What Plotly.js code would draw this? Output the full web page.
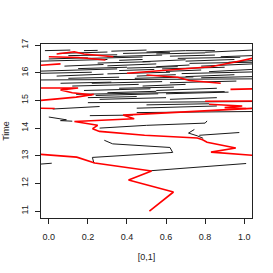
<!DOCTYPE html>
<html>
<head>
<meta charset="utf-8">
<script src="https://cdn.plot.ly/plotly-3.0.1.min.js"></script>
<style>html,body{margin:0;padding:0;background:#fff}#chart{width:273px;height:273px}</style>
</head>
<body>
<div id="chart"></div>
<script>
// Black lineages: x positions and times, one sub-array per line
const blackX = [
  [-0.02, 0.05, 0.11], [0.18, 0.25], [0.32, 0.41, 0.50], [0.50, 0.70, 0.85], [0.80, 0.92, 1.04],
  [0.38, 0.62], [0.10, 0.22, 0.35], [0.30, 0.45, 0.58], [0.62, 0.85], [0.88, 1.04],
  [-0.04, 0.15, 0.30], [0.36, 0.48], [0.48, 0.60, 0.70], [0.70, 0.95], [0.92, 1.04],
  [0.08, 0.28], [0.30, 0.42, 0.55], [0.55, 0.72], [0.78, 0.90, 1.04],
  [-0.04, 0.15, 0.35], [0.36, 0.54], [0.60, 0.78], [0.82, 1.04],
  [0.04, 0.28], [0.45, 0.65], [0.70, 0.95],
  [-0.04, 0.50, 1.04],
  [0.12, 0.46], [0.48, 0.70],
  [0.18, 0.52], [0.55, 0.86],
  [0.14, 0.50, 0.90], [0.24, 0.56],
  [0.26, 0.60], [0.62, 0.86],
  [0.20, 0.60, 1.04],
  [0.02, 0.26], [0.45, 0.86],
  [0.45, 0.75, 1.04],
  [0.00, 0.09, 0.06, 0.12],
  [0.21, 0.43],
  [0.26, 0.50, 0.80, 0.81],
  [0.745, 0.715, 0.76, 0.79],
  [0.77, 0.975],
  [0.284, 0.327, 0.62, 0.634, 0.223, 0.231],
  [0.524, 1.01],
  [-0.04, 0.015],
  // extra dense upper lineages
  [0.05, 0.30], [0.55, 0.80], [0.20, 0.48], [0.66, 0.98], [0.00, 0.20],
  [0.25, 0.52], [0.72, 1.04], [0.40, 0.66], [0.15, 0.40], [0.58, 0.90],
  [-0.04, 0.22], [0.30, 0.62], [0.68, 1.04], [0.10, 0.36], [0.44, 0.74],
  [0.78, 1.04], [0.22, 0.58], [0.62, 0.96], [0.06, 0.32], [0.36, 0.64],
  [0.30, 0.55], [0.60, 0.92], [0.20, 0.45], [0.50, 0.82]
];
const blackT = [
  [16.80, 16.81, 16.82], [16.80, 16.81], [16.78, 16.80, 16.82], [16.75, 16.80, 16.80], [16.74, 16.79, 16.82],
  [16.70, 16.74], [16.62, 16.63, 16.65], [16.58, 16.61, 16.64], [16.60, 16.64], [16.58, 16.62],
  [16.42, 16.45, 16.48], [16.45, 16.48], [16.40, 16.44, 16.47], [16.42, 16.48], [16.38, 16.44],
  [16.24, 16.30], [16.25, 16.28, 16.32], [16.22, 16.28], [16.24, 16.28, 16.32],
  [16.06, 16.10, 16.14], [16.08, 16.12], [16.05, 16.10], [16.04, 16.12],
  [15.88, 15.95], [15.88, 15.93], [15.86, 15.93],
  [15.74, 15.76, 15.78],
  [15.52, 15.58], [15.52, 15.58],
  [15.36, 15.42], [15.36, 15.44],
  [15.22, 15.27, 15.32], [15.18, 15.24],
  [15.04, 15.10], [15.04, 15.10],
  [14.92, 14.94, 14.96],
  [14.69, 14.78], [14.72, 14.80],
  [14.56, 14.58, 14.60],
  [14.40, 14.30, 14.27, 14.25],
  [14.45, 14.47],
  [14.00, 14.10, 14.18, 14.26],
  [13.95, 13.82, 13.72, 13.63],
  [13.74, 13.84],
  [13.56, 13.43, 13.30, 13.12, 12.94, 12.73],
  [12.46, 12.72],
  [12.70, 12.73],
  [16.70, 16.75], [16.68, 16.72], [16.52, 16.57], [16.52, 16.56], [16.50, 16.54],
  [16.35, 16.40], [16.34, 16.38], [16.17, 16.22], [16.15, 16.20], [16.14, 16.20],
  [15.98, 16.02], [15.96, 16.02], [15.97, 16.03], [15.80, 15.84], [15.80, 15.85],
  [15.82, 15.86], [15.62, 15.68], [15.64, 15.70], [15.62, 15.66], [15.44, 15.48],
  [15.28, 15.33], [15.24, 15.30], [15.10, 15.14], [14.84, 14.88]
];
// Red (sample) lineages
const redX = [
  [0.515, 0.638, 0.408, 0.526, 0.235, 0.143, -0.06],
  [1.06, 0.83, 0.957, 0.81, 0.787, 0.76, 0.49, 0.259, 0.224, 0.25, 0.131, 0.437, 0.38, 0.70, 1.01, 1.06],
  [0.82, 0.99, 0.90, 1.01],
  [-0.06, 0.03],
  [-0.06, 0.14, 0.23],
  [-0.06, 0.15, 0.06, 0.12, 0.22],
  [0.80, 1.06],
  [0.93, 1.06],
  [0.40, 0.60, 0.83, 0.96, 1.06],
  [0.50, 0.66, 0.72, 0.88],
  [-0.06, 0.06],
  [0.00, 0.15, 0.29],
  [0.04, 0.13, 0.18, 0.33]
];
const redT = [
  [11.00, 11.69, 12.12, 12.45, 12.74, 12.95, 13.06],
  [13.01, 13.13, 13.28, 13.49, 13.58, 13.64, 13.74, 13.88, 13.98, 14.10, 14.24, 14.34, 14.47, 14.59, 14.71, 14.72],
  [14.86, 14.80, 14.74, 14.71],
  [14.72, 14.71],
  [14.99, 15.12, 15.22],
  [15.45, 15.45, 15.38, 15.28, 15.20],
  [14.97, 14.98],
  [15.40, 15.42],
  [15.98, 16.08, 16.22, 16.40, 16.55],
  [15.92, 15.84, 15.72, 15.62],
  [16.26, 16.32],
  [16.58, 16.55, 16.46],
  [16.68, 16.76, 16.68, 16.58]
];
const xTicks = [0, 0.2, 0.4, 0.6, 0.8, 1.0];
const xTickText = ["0.0", "0.2", "0.4", "0.6", "0.8", "1.0"];
const yTicks = [11, 12, 13, 14, 15, 16, 17];

const traces = [];
blackX.forEach((xs, i) => traces.push({
  type: 'scatter', mode: 'lines', x: xs, y: blackT[i],
  line: {color: '#1a1a1a', width: 1}, hoverinfo: 'skip', showlegend: false
}));
redX.forEach((xs, i) => traces.push({
  type: 'scatter', mode: 'lines', x: xs, y: redT[i],
  line: {color: '#ff0000', width: 1.6}, hoverinfo: 'skip', showlegend: false
}));

const font = {family: 'Liberation Sans, Arial, sans-serif', size: 9, color: '#222'};
const layout = {
  width: 273, height: 273,
  margin: {l: 41, r: 21, t: 44, b: 55},
  paper_bgcolor: '#fff', plot_bgcolor: '#fff',
  font: font,
  xaxis: {
    range: [-0.04, 1.04], tickvals: xTicks, ticktext: xTickText,
    showgrid: false, zeroline: false, showline: true, mirror: true,
    linecolor: '#222', linewidth: 1, ticks: 'outside', ticklen: 5, tickcolor: '#222',
    ticklabelstandoff: 5,
    title: {text: '[0,1]', font: font, standoff: 12}
  },
  yaxis: {
    range: [10.75, 17.04], tickvals: yTicks,
    showgrid: false, zeroline: false, showline: true, mirror: true,
    linecolor: '#222', linewidth: 1, ticks: 'outside', ticklen: 5, tickcolor: '#222',
    tickangle: -90, ticklabelstandoff: 3,
    title: {text: 'Time', font: font, standoff: 9}
  }
};
Plotly.newPlot('chart', traces, layout, {staticPlot: true, displayModeBar: false});
</script>
</body>
</html>
